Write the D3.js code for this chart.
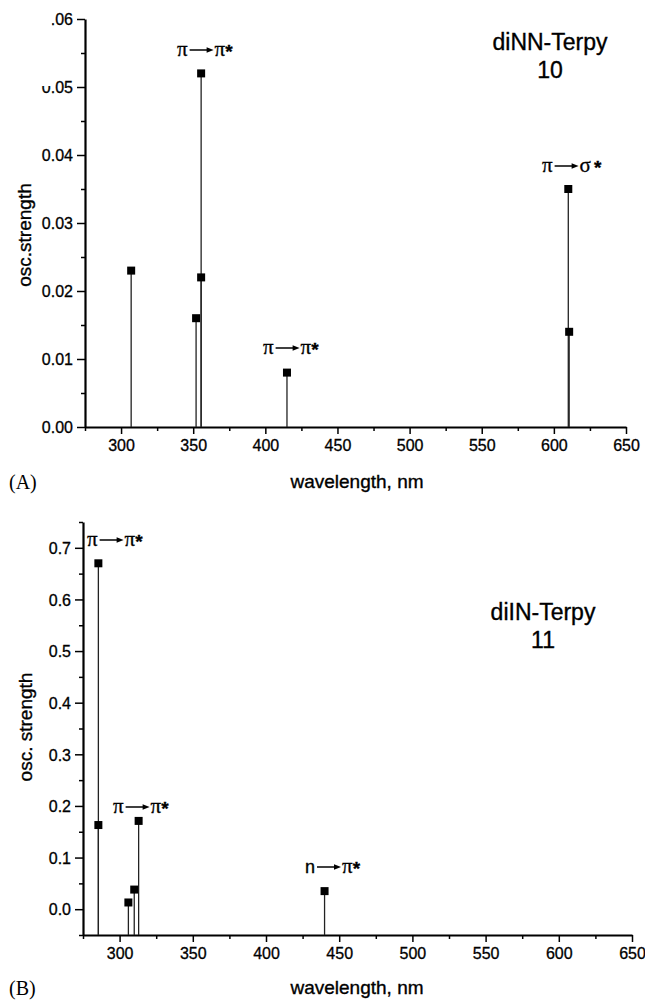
<!DOCTYPE html>
<html>
<head>
<meta charset="utf-8">
<script src="https://cdn.jsdelivr.net/npm/d3@7"></script>
<style>
  body { margin: 0; background: #fff; }
  svg { display: block; }
  .tick text { font-family: "Liberation Sans", Arial, sans-serif; font-size: 16px; fill: #000; stroke: #000; stroke-width: 0.3px; }
  .axis path, .axis line { stroke: #000; }
  .lbl { font-family: "Liberation Sans", Arial, sans-serif; fill: #000; stroke: #000; stroke-width: 0.35px; }
  .serif { font-family: "Liberation Serif", "Times New Roman", serif; fill: #000; stroke: #000; stroke-width: 0.3px; }
</style>
</head>
<body>
<div id="chart"></div>
<script>

// panel A: diNN-Terpy 10
const waveA = [307, 352, 355.5, 355.5, 415, 610, 610.6];
const oscA = [0.023, 0.016, 0.052, 0.022, 0.008, 0.035, 0.014];
const yTicksA = [0, 0.01, 0.02, 0.03, 0.04, 0.05, 0.06];

// panel B: diIN-Terpy 11
const waveB = [285.5, 285.5, 306, 310, 313, 440];
const oscB = [0.67, 0.163, 0.013, 0.038, 0.171, 0.035];
const yTicksB = [0, 0.1, 0.2, 0.3, 0.4, 0.5, 0.6, 0.7];

const xTicks = [300, 350, 400, 450, 500, 550, 600, 650];
const xMinor = [275, 325, 375, 425, 475, 525, 575, 625];

const W = 645, H = 1000;

const svg = d3.select("#chart").append("svg")
  .attr("width", W)
  .attr("height", H);

function drawPanel(p) {
  let g = svg.append("g");

  let x = d3.scaleLinear().domain([275, 650]).range([p.left, p.right]);
  let y = d3.scaleLinear().domain(p.yDomain).range([p.bottom, p.top]);

  // minor ticks
  g.append("g")
    .attr("class", "axis")
    .attr("transform", `translate(0,${p.bottom})`)
    .call(d3.axisBottom(x).tickValues(xMinor).tickSize(4).tickSizeOuter(0).tickFormat(""))
    .call(a => a.select(".domain").remove())
    .selectAll("line").attr("stroke-width", 1.5);

  g.append("g")
    .attr("class", "axis")
    .attr("transform", `translate(${p.left},0)`)
    .call(d3.axisLeft(y).tickValues(p.yMinor).tickSize(4).tickSizeOuter(0).tickFormat(""))
    .call(a => a.select(".domain").remove())
    .selectAll("line").attr("stroke-width", 1.5);

  // major ticks
  g.append("g")
    .attr("class", "axis")
    .attr("transform", `translate(0,${p.bottom})`)
    .call(d3.axisBottom(x).tickValues(xTicks).tickSize(7).tickSizeOuter(0).tickPadding(6).tickFormat(d3.format("d")))
    .call(a => a.select(".domain").attr("stroke-width", 2.2))
    .call(a => a.selectAll("line").attr("stroke-width", 1.5));

  g.append("g")
    .attr("class", "axis")
    .attr("transform", `translate(${p.left},0)`)
    .call(d3.axisLeft(y).tickValues(p.yTicks).tickSize(8).tickSizeOuter(0).tickPadding(4).tickFormat(d3.format(p.fmt)))
    .call(a => a.select(".domain").attr("stroke-width", 2.2))
    .call(a => a.selectAll("line").attr("stroke-width", 1.5))
    .call(a => a.selectAll("text").attr("dy", "0.36em"));

  // stems
  let data = p.wave.map((w, i) => ({w: w, v: p.osc[i]}));
  g.selectAll(".stem")
    .data(data)
    .enter().append("line")
    .attr("class", "stem")
    .attr("x1", d => x(d.w))
    .attr("x2", d => x(d.w))
    .attr("y1", p.bottom)
    .attr("y2", d => y(d.v))
    .attr("stroke", "#222")
    .attr("stroke-width", 1.3);

  g.selectAll(".pt")
    .data(data)
    .enter().append("rect")
    .attr("class", "pt")
    .attr("x", d => x(d.w) - 4)
    .attr("y", d => y(d.v) - 4)
    .attr("width", 8)
    .attr("height", 8)
    .attr("fill", "#000");

  // axis titles
  g.append("text")
    .attr("class", "lbl")
    .attr("x", 357)
    .attr("y", p.xTitleY)
    .attr("text-anchor", "middle")
    .style("font-size", "19px")
    .text("wavelength, nm");

  g.append("text")
    .attr("class", "lbl")
    .attr("transform", `translate(${p.yTitleX},${p.yTitleY}) rotate(-90)`)
    .attr("text-anchor", "middle")
    .style("font-size", "19px")
    .text(p.yTitle);

  // panel letter
  g.append("text")
    .attr("class", "serif")
    .attr("x", 9)
    .attr("y", p.xTitleY + 1)
    .style("font-size", "20px")
    .style("stroke-width", "0px")
    .text(p.letter);

  // compound name
  g.selectAll(".name")
    .data(p.name)
    .enter().append("text")
    .attr("class", "lbl")
    .attr("x", p.nameX)
    .attr("y", (d, i) => p.nameY + i * 28)
    .attr("text-anchor", "middle")
    .style("font-size", "23px")
    .text(d => d);

  p.notes.forEach(n => annotate(g, n));
}

// transition label: from -> to*
function annotate(g, n) {
  let a = g.append("text")
    .attr("class", n.fromSans ? "lbl" : "serif")
    .attr("x", n.x)
    .attr("y", n.y)
    .style("font-size", n.fromSans ? "18px" : "21px")
    .text(n.from);
  let x0 = n.x + a.node().getComputedTextLength() + 2;
  let x1 = x0 + 24;
  g.append("line")
    .attr("x1", x0).attr("x2", x1 - 5)
    .attr("y1", n.y - 6).attr("y2", n.y - 6)
    .attr("stroke", "#000").attr("stroke-width", 1.5);
  g.append("path")
    .attr("d", `M${x1},${n.y - 6} L${x1 - 7},${n.y - 8.7} L${x1 - 7},${n.y - 3.3} Z`)
    .attr("fill", "#000");
  let b = g.append("text")
    .attr("class", "serif")
    .attr("x", x1 + 1)
    .attr("y", n.y)
    .style("font-size", "21px")
    .text(n.to);
  g.append("text")
    .attr("class", "lbl")
    .attr("x", x1 + 1 + b.node().getComputedTextLength() + (n.to === "σ" ? 3 : 0))
    .attr("y", n.y + 2)
    .style("font-size", "19px")
    .style("font-weight", "bold")
    .text("*");
}

drawPanel({
  left: 85, right: 626, top: 19, bottom: 427,
  yDomain: [0, 0.06],
  yTicks: yTicksA,
  yMinor: [0.005, 0.015, 0.025, 0.035, 0.045, 0.055],
  fmt: ".2f",
  wave: waveA, osc: oscA,
  xTitleY: 488,
  yTitle: "osc.strength", yTitleX: 31, yTitleY: 235,
  letter: "(A)",
  name: ["diNN-Terpy", "10"], nameX: 550, nameY: 50,
  notes: [
    {x: 177, y: 56, from: "π", to: "π"},
    {x: 263, y: 354, from: "π", to: "π"},
    {x: 542, y: 172, from: "π", to: "σ"}
  ]
});

drawPanel({
  left: 83, right: 632, top: 522, bottom: 935,
  yDomain: [-0.05, 0.75],
  yTicks: yTicksB,
  yMinor: [-0.05, 0.05, 0.15, 0.25, 0.35, 0.45, 0.55, 0.65, 0.75],
  fmt: ".1f",
  wave: waveB, osc: oscB,
  xTitleY: 994,
  yTitle: "osc. strength", yTitleX: 32, yTitleY: 727,
  letter: "(B)",
  name: ["diIN-Terpy", "11"], nameX: 543, nameY: 620,
  notes: [
    {x: 87, y: 546, from: "π", to: "π"},
    {x: 113, y: 813, from: "π", to: "π"},
    {x: 305, y: 873, from: "n", to: "π", fromSans: true}
  ]
});

// the scanned original has the leading zero of the top two labels cut away
svg.append("rect")
  .attr("x", 36).attr("y", 4)
  .attr("width", 15.5).attr("height", 82)
  .attr("fill", "#fff");

</script>
</body>
</html>
